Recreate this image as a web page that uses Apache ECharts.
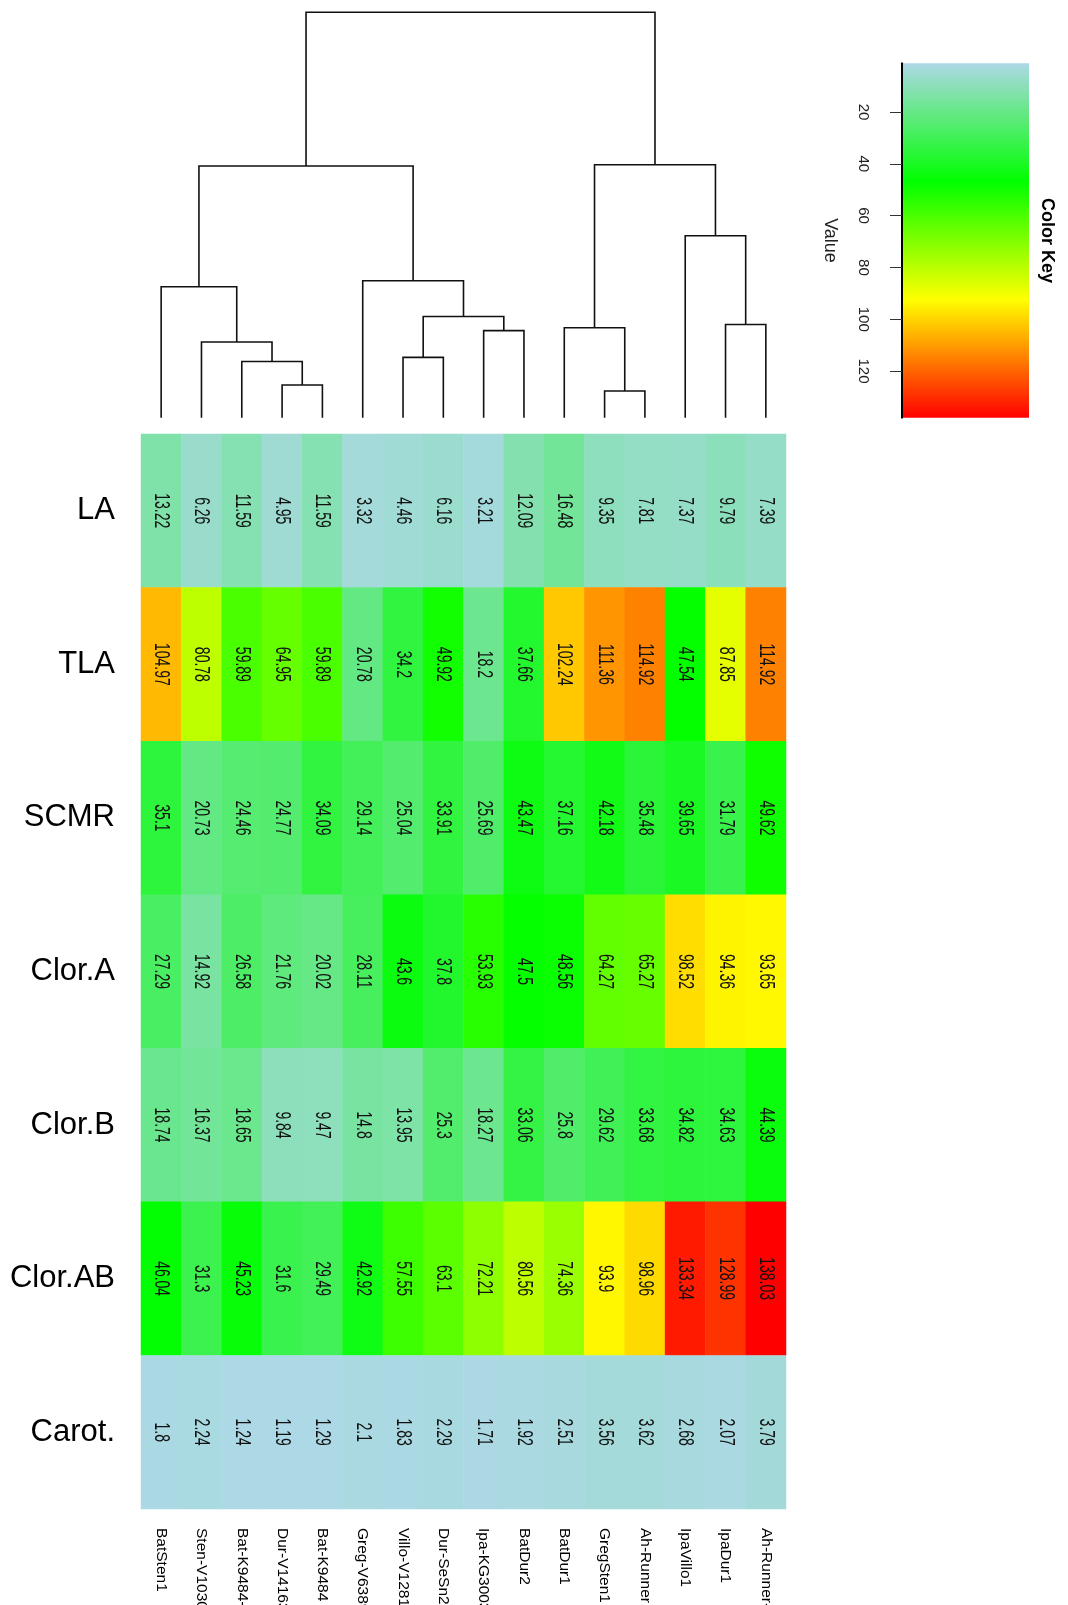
<!DOCTYPE html>
<html><head><meta charset="utf-8">
<script src="https://cdn.jsdelivr.net/npm/echarts@6/dist/echarts.min.js"></script>
<style>html,body{margin:0;padding:0;background:#fff;overflow:hidden}#chart{width:1068px;height:1605px}</style>
</head><body><div id="chart"></div>
<script>
// ---- data ----
const genotypes = ['BatSten1','Sten-V1030','Bat-K9484-1','Dur-V14163','Bat-K9484','Greg-V6389','Villo-V1281','Dur-SeSn22','Ipa-KG3003','BatDur2','BatDur1','GregSten1','Ah-Runner','IpaVillo1','IpaDur1','Ah-Runner-1'];
const traits = ['LA','TLA','SCMR','Clor.A','Clor.B','Clor.AB','Carot.'];
const valLA     = [13.22,6.26,11.59,4.95,11.59,3.32,4.46,6.16,3.21,12.09,16.48,9.35,7.81,7.37,9.79,7.39];
const valTLA    = [104.97,80.78,59.89,64.95,59.89,20.78,34.2,49.92,18.2,37.66,102.24,111.36,114.92,47.54,87.85,114.92];
const valSCMR   = [35.1,20.73,24.46,24.77,34.09,29.14,25.04,33.91,25.69,43.47,37.16,42.18,35.48,39.65,31.79,49.62];
const valClorA  = [27.29,14.92,26.58,21.76,20.02,28.11,43.6,37.8,53.93,47.5,48.56,64.27,65.27,98.52,94.36,93.65];
const valClorB  = [18.74,16.37,18.65,9.84,9.47,14.8,13.95,25.3,18.27,33.06,25.8,29.62,33.68,34.82,34.63,44.39];
const valClorAB = [46.04,31.3,45.23,31.6,29.49,42.92,57.55,63.1,72.21,80.56,74.36,93.9,98.96,133.34,128.99,138.03];
const valCarot  = [1.8,2.24,1.24,1.19,1.29,2.1,1.83,2.29,1.71,1.92,2.51,3.56,3.62,2.68,2.07,3.79];
// dendrogram (hclust-style merges: negative = leaf column, positive = earlier merge)
const mergeLeft   = [-12,-4,-3,-7,-2,-9,-11,-15,4,-1,-6,-14,10,7,13];
const mergeRight  = [-13,-5,2,-8,3,-10,1,-16,6,5,9,8,11,12,14];
const mergeHeight = [6.6,8.1,13.9,14.9,18.7,21.5,22.2,23.0,25.0,32.3,33.8,44.9,62.1,62.4,100];
const keyTicks = [20,40,60,80,100,120];
const palette = ['#ADD8E6','#00FF00','#FFFF00','#FF0000'];

// ---- build ----
const rows = [valLA,valTLA,valSCMR,valClorA,valClorB,valClorAB,valCarot];
const heat = [];
rows.forEach((r,ri)=>r.forEach((v,ci)=>heat.push([ci,ri,v])));
const all = rows.flat();
const vMin = Math.min(...all), vMax = Math.max(...all);

function nodeX(c){ return c<0 ? -c-1 : (nodeX(mergeLeft[c-1])+nodeX(mergeRight[c-1]))/2; }
function nodeH(c){ return c<0 ? 0 : mergeHeight[c-1]; }

const font = "'Liberation Sans',Arial,Helvetica,sans-serif";

const chart = echarts.init(document.getElementById('chart'), null, {renderer:'canvas'});
chart.setOption({
  animation:false,
  backgroundColor:'#fff',
  grid:[
    {left:141,width:645,top:12.3,height:405.5,outerBoundsMode:'none',containLabel:false},
    {left:141,width:645,top:434,height:1075,outerBoundsMode:'none',containLabel:false},
    {left:902,width:127,top:63.3,height:354.4,outerBoundsMode:'none',containLabel:false}
  ],
  xAxis:[
    {gridIndex:0,type:'value',min:-0.5,max:15.5,show:false},
    {gridIndex:1,type:'category',data:genotypes,position:'bottom',
     axisLine:{show:false},axisTick:{show:false},splitLine:{show:false},
     axisLabel:{interval:0,rotate:-90,margin:19,fontSize:15.5,color:'#000',fontFamily:font}},
    {gridIndex:2,type:'value',min:0,max:1,show:false}
  ],
  yAxis:[
    {gridIndex:0,type:'value',min:0,max:100,show:false},
    {gridIndex:1,type:'category',data:traits,inverse:true,
     axisLine:{show:false},axisTick:{show:false},splitLine:{show:false},
     axisLabel:{margin:26,fontSize:31,color:'#000',fontFamily:font}},
    {gridIndex:2,type:'value',min:vMin,max:vMax,inverse:true,position:'left',z:5,
     axisLine:{show:true,lineStyle:{color:'#000',width:2}},
     axisTick:{show:true,length:12,customValues:keyTicks,lineStyle:{color:'#333',width:1}},
     axisLabel:{customValues:keyTicks,rotate:-90,margin:31,fontSize:15,color:'#222',fontFamily:font},
     splitLine:{show:false},
     name:'Value',nameLocation:'middle',nameRotate:-90,nameGap:63,
     nameTextStyle:{fontSize:18,color:'#222',fontFamily:font}},
    {gridIndex:2,type:'value',min:vMin,max:vMax,inverse:true,position:'right',
     axisLine:{show:false},axisTick:{show:false},axisLabel:{show:false},splitLine:{show:false},
     name:'Color Key',nameLocation:'middle',nameRotate:-90,nameGap:9,
     nameTextStyle:{fontSize:18,fontWeight:'bold',color:'#000',fontFamily:font}}
  ],
  visualMap:{type:'continuous',show:false,min:vMin,max:vMax,dimension:2,seriesIndex:1,
    inRange:{color:palette}},
  series:[
    {type:'custom',xAxisIndex:0,yAxisIndex:0,silent:true,
     data:mergeHeight.map((h,i)=>[i]),
     renderItem:function(params,api){
       const i = params.dataIndex;
       const a = mergeLeft[i], b = mergeRight[i], h = mergeHeight[i];
       const pts = [
         api.coord([nodeX(a),nodeH(a)]),
         api.coord([nodeX(a),h]),
         api.coord([nodeX(b),h]),
         api.coord([nodeX(b),nodeH(b)])
       ];
       return {type:'polyline',shape:{points:pts},style:{stroke:'#111',lineWidth:1.6,fill:null}};
     }},
    {type:'heatmap',xAxisIndex:1,yAxisIndex:1,data:heat,silent:true,
     itemStyle:{borderWidth:0},label:{show:false},emphasis:{disabled:true}},
    {type:'custom',xAxisIndex:1,yAxisIndex:1,silent:true,data:heat,z:5,
     encode:{x:0,y:1},
     renderItem:function(params,api){
       const p = api.coord([api.value(0),api.value(1)]);
       return {type:'text',x:p[0],y:p[1],rotation:-Math.PI/2,scaleX:1,scaleY:1.55,
         style:{text:String(api.value(2)),fontSize:14,fontFamily:font,fill:'#111',
           align:'center',verticalAlign:'middle'}};
     }},
    {type:'custom',xAxisIndex:2,yAxisIndex:2,silent:true,data:[[0]],
     renderItem:function(params,api){
       const p1 = api.coord([0,vMin]), p2 = api.coord([1,vMax]);
       const stops = palette.map((c,k)=>({offset:k/(palette.length-1),color:c}));
       return {type:'rect',
         shape:{x:Math.min(p1[0],p2[0]),y:Math.min(p1[1],p2[1]),width:Math.abs(p2[0]-p1[0]),height:Math.abs(p2[1]-p1[1])},
         style:{fill:{type:'linear',x:0,y:0,x2:0,y2:1,colorStops:stops}}};
     }}
  ]
});
</script></body></html>
